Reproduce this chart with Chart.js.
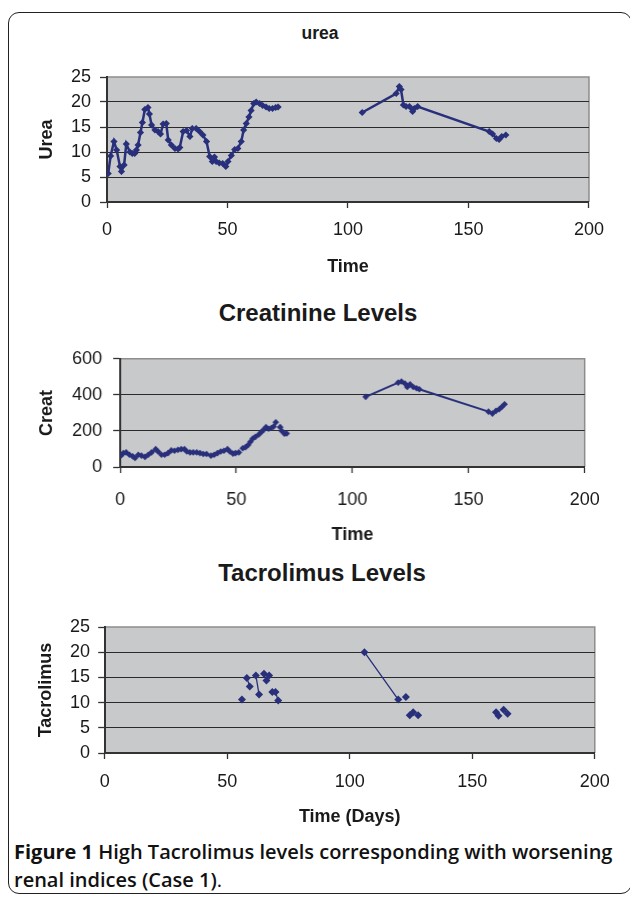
<!DOCTYPE html>
<html>
<head>
<meta charset="utf-8">
<script src="https://cdn.jsdelivr.net/npm/chart.js@4.4.1/dist/chart.umd.min.js"></script>
<style>
html,body{margin:0;padding:0;background:#fff;}
body{width:630px;height:897px;position:relative;overflow:hidden;font-family:'Liberation Sans',Arial,sans-serif;}
.frame{position:absolute;left:8px;top:12px;width:624px;height:882px;border:1.5px solid #222;border-radius:11px;box-sizing:border-box;}
.box{position:absolute;}
.ttl{position:absolute;font-weight:bold;color:#1a1a1a;white-space:nowrap;transform:translateX(-50%);}
.cap{position:absolute;left:14px;top:838px;font-family:'Open Sans',sans-serif;font-size:20px;line-height:28px;color:#111;font-weight:600;white-space:nowrap;}
.cap b{font-weight:700;}
.cap span{font-weight:400;}
</style>
</head>
<body>
<div class="frame"></div>

<div class="ttl" style="left:320px;top:23px;font-size:17.5px;line-height:20px;">urea</div>
<div class="box" style="left:20px;top:57px;width:595px;height:225px;"><canvas id="ureaChart"></canvas></div>

<div class="ttl" style="left:318px;top:299px;font-size:24px;line-height:28px;">Creatinine Levels</div>
<div class="box" style="left:20px;top:336.7px;width:594.5px;height:210px;"><canvas id="creatChart"></canvas></div>

<div class="ttl" style="left:322px;top:559px;font-size:24px;line-height:28px;">Tacrolimus Levels</div>
<div class="box" style="left:20px;top:606.7px;width:602.3px;height:226px;"><canvas id="tacroChart"></canvas></div>

<div class="cap"><b>Figure 1</b> High Tacrolimus levels corresponding with worsening<br>renal indices (Case 1)<span>.</span></div>

<script>
'use strict';
Chart.defaults.font.family = "'Liberation Sans', Arial, sans-serif";
Chart.defaults.color = '#1a1a1a';
Chart.defaults.animation = false;

// null value = empty cell, the line breaks there
const ureaDays = [0.5,1.5,2.9,4,5.4,6,7.1,8,9.5,10.5,11.5,12.2,12.9,13.9,14.7,15.7,17,17.6,18.5,19.9,21.2,22.2,23.3,24.6,25.4,26.7,28.2,29.5,30.2,31.6,33,34.4,35.4,37,38.4,39.8,41.3,42.6,43.7,44.6,45.3,46.6,48,49.3,50.2,51.6,53,54.3,55.7,56.7,57.8,58.9,59.8,60.9,61.9,63.3,64.6,66,67.3,68.7,70,71,
  88,
  105.9,120,121.3,122,123,124.1,125.5,126.8,127.5,128.9,158.6,160,161.6,162.7,163.8,165.5];
const ureaVals = [5.7,9.2,12.1,10.4,7.1,6.1,7.4,11.6,10,9.7,9.7,10.4,11.4,13.9,15.9,18.5,18.9,17.6,15.4,14.4,14.1,13.6,15.6,15.7,12.4,11.4,10.7,10.6,10.9,14.1,14.3,13.1,14.7,14.7,14.1,13.4,12.1,9.1,8.1,9,8.1,7.8,7.7,7.1,8.1,9.3,10.5,10.7,12.1,14.4,15.7,17,18.3,19.7,20,19.7,19.3,19,18.7,18.7,18.9,19,
  null,
  17.9,21.7,23.1,22.5,19.4,19.1,19.1,18.1,18.7,19.1,14.1,13.6,12.7,12.5,13.1,13.4];

const creatDays = [0.3,1.4,2.6,4,5.4,6.4,7.8,9.2,10.7,12.1,13.5,15.3,16.3,17.8,19.2,20.6,22,23.4,24.9,26.3,27.7,28.7,30.1,31.5,33,34.4,35.8,37.2,39.1,40.5,41.9,43.3,44.7,46.2,47.2,48.6,49.7,51.1,
  51.8,
  52.8,54,55.1,56.1,57.1,58.2,59.7,60.8,61.8,62.8,63.9,65.1,66.1,67,
  68,
  68.9,69.6,70.7,71.7,
  88,
  105.7,119.7,121.1,122.6,123.6,124.8,126.2,127.6,128.8,158.6,160.3,161.8,163.2,164.3,165.5];
const creatVals = [63,77,81,68,59,50,68,63,56,68,81,99,86,68,68,77,92,90,95,99,99,86,81,81,81,77,72,72,63,68,77,86,90,99,86,74,77,81,
  null,
  104,110,122,140,158,167,180,194,207,221,212,216,225,248,
  null,
  221,200,184,186,
  null,
  389,468,474,463,444,459,444,437,431,307,296,311,320,333,348];

const tacroDays = [56,57,58,59.2,60,61.7,63,64,65,66,67.1,67.8,68.4,69.7,70.8,90,106,119.8,121,122.9,123.5,124.5,125.9,127,127.9,140,159.7,160.7,161.8,162.8,164.4];
const tacroVals = [10.6,null,14.9,13.2,null,15.4,11.6,null,15.7,14.4,15.4,null,12.1,12.1,10.4,null,20,10.6,null,11.1,null,7.5,8.1,null,7.5,null,8.1,7.4,null,8.6,7.8];

const NAVY = '#29307b';
const PLOT_BG = '#c8c9cb';
const GRID = '#2b2b2b';
const EDGE = '#8d8d8d';
const AXIS = '#333';

const plotBg = {
  id:'plotBg',
  beforeDraw(chart){
    const {ctx, chartArea:a} = chart;
    ctx.save();
    ctx.fillStyle = PLOT_BG;
    ctx.fillRect(a.left, a.top, a.right-a.left, a.bottom-a.top);
    ctx.strokeStyle = EDGE; ctx.lineWidth = 1.5;
    ctx.beginPath(); ctx.moveTo(a.left, a.top); ctx.lineTo(a.right, a.top); ctx.lineTo(a.right, a.bottom); ctx.stroke();
    ctx.restore();
  }
};

function pts(days, vals){ return days.map((d,i)=>({x:d, y:vals[i]})); }

function build(id, g){
  return new Chart(document.getElementById(id), {
    type:'line',
    data:{datasets:[{data:pts(g.days,g.vals), borderColor:NAVY, backgroundColor:NAVY, borderWidth:g.lw,
      pointStyle:'rectRot', pointRadius:g.pr, pointBorderWidth:0, pointBackgroundColor:NAVY, spanGaps:false, tension:0}]},
    options:{
      responsive:true, maintainAspectRatio:false, animation:false,
      layout:{padding:{top:20,right:g.padR,left:0,bottom:0}},
      plugins:{legend:{display:false}, tooltip:{enabled:false}},
      scales:{
        x:{type:'linear', min:0, max:200,
          ticks:{stepSize:50, font:{size:18}, padding:g.xPad, color:'#1a1a1a', maxRotation:0},
          grid:{drawOnChartArea:false, tickLength:6, tickColor:AXIS, tickWidth:1.3},
          border:{color:AXIS, width:2},
          title:{display:true, text:g.xTitle, color:'#1a1a1a', font:{size:18, weight:'bold'}, padding:{top:0,bottom:g.xTitlePad}},
          afterFit(s){ s.height = 80; }},
        y:{type:'linear', min:0, max:g.ymax,
          ticks:{stepSize:g.ystep, font:{size:18}, padding:g.yPad, color:'#1a1a1a'},
          grid:{color:c=>c.tick && c.tick.value===g.ymax ? 'rgba(0,0,0,0)' : GRID, tickLength:g.yTick, tickColor:AXIS, tickWidth:1.3},
          border:{color:AXIS, width:2},
          title:{display:true, text:g.yTitle, color:'#1a1a1a', font:{size:18, weight:'bold'}, padding:{top:g.yTitlePad,bottom:0}},
          afterFit(s){ s.width = g.yw; }}
      }
    },
    plugins:[plotBg]
  });
}

build('ureaChart', {days:ureaDays, vals:ureaVals, lw:2.5, pr:3.6, padR:25, yw:87, yTick:7, yPad:9, yTitlePad:16.2,
  xPad:11, xTitlePad:4, ymax:25, ystep:5, xTitle:'Time', yTitle:'Urea'});
build('creatChart', {days:creatDays, vals:creatVals, lw:2, pr:3.3, padR:25, yw:100, yTick:7, yPad:11, yTitlePad:16.7,
  xPad:15.8, xTitlePad:0.9, ymax:600, ystep:200, xTitle:'Time', yTitle:'Creat'});
build('tacroChart', {days:tacroDays, vals:tacroVals, lw:1.3, pr:4, padR:25, yw:84.7, yTick:6.5, yPad:8.2, yTitlePad:15.7,
  xPad:12.5, xTitlePad:4.9, ymax:25, ystep:5, xTitle:'Time (Days)', yTitle:'Tacrolimus'});
</script>
</body>
</html>
